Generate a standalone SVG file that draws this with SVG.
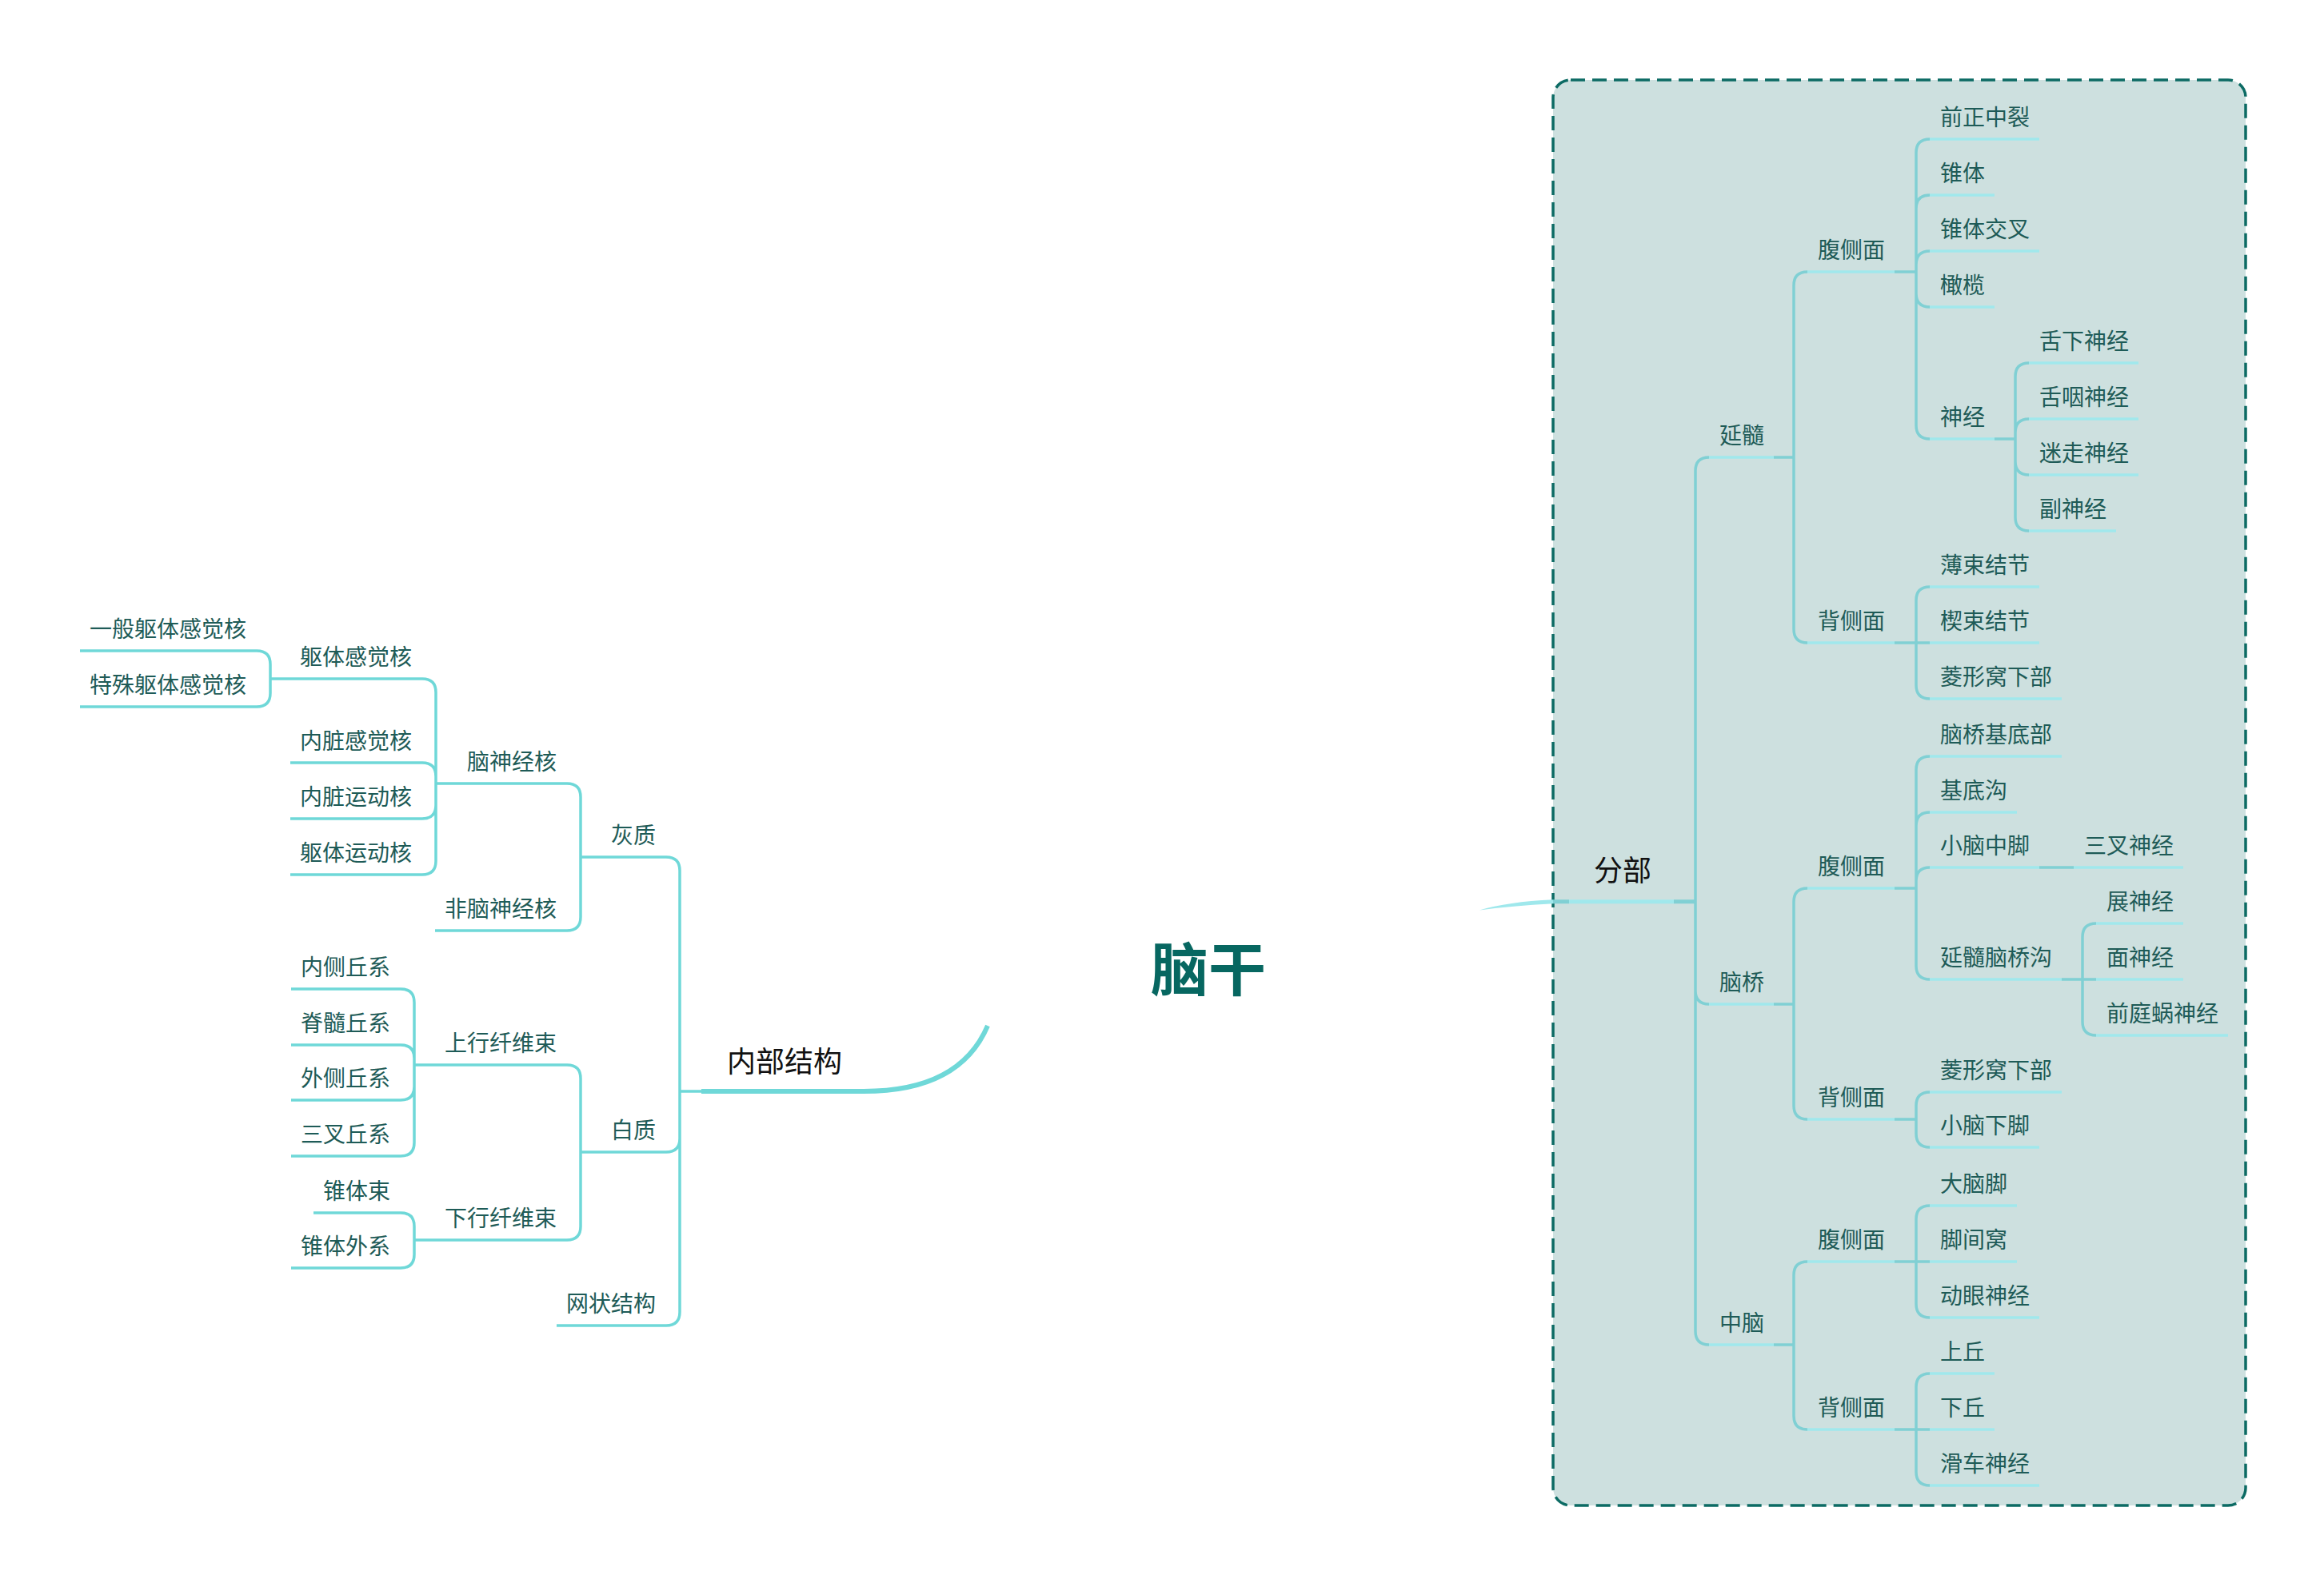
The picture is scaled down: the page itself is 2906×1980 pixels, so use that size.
<svg xmlns="http://www.w3.org/2000/svg" width="2906" height="1980" viewBox="0 0 2906 1980">
<style>
text{font-family:"Noto Sans CJK SC","Noto Sans",sans-serif;}
.t{font-size:28px;fill:#1e5b57;}
.tl{text-anchor:end;}
.big{font-size:36px;fill:#111;}
.ll{stroke:#6fd8d8;stroke-width:3.5;fill:none;}
.ur{stroke:#a0e8ec;stroke-width:3.5;fill:none;}
.cr{stroke:#80d0d4;stroke-width:3.5;fill:none;}
</style>
<rect width="2906" height="1980" fill="#ffffff"/>
<g id="boundary">
<rect x="1942" y="100" width="866" height="1783" rx="22" fill="#cde0df" stroke="#0c6b64" stroke-width="3.5" stroke-dasharray="18 9"/>
</g>
<g id="connectors">
<path d="M1850,1138.5 Q1885,1128 1942,1125.3 L1942,1130.3 Q1890,1133 1850,1138.5 Z" fill="#9fe8ec"/>
<path d="M850,1365 H877" class="ll"/>
<path d="M1080,1365 C1170,1365 1215,1330 1235,1283" stroke="#6fd8d8" stroke-width="6" fill="none"/>
<path class="ll" d="M833,1072 Q850,1072 850,1089 V1365 M833,1441 Q850,1441 850,1424 V1365 M833,1658 Q850,1658 850,1641 V1365
M709,980 Q726,980 726,997 V1072 M709,1164 Q726,1164 726,1147 V1072
M709,1332 Q726,1332 726,1349 V1441 M709,1551 Q726,1551 726,1534 V1441
M528,849 Q545,849 545,866 V980 M528,954 Q545,954 545,971 V980 M528,1024 Q545,1024 545,1007 V980 M528,1094 Q545,1094 545,1077 V980
M321,814 Q338,814 338,831 V849 M321,884 Q338,884 338,867 V849
M501,1237 Q518,1237 518,1254 V1332 M501,1307 Q518,1307 518,1324 V1332 M501,1376 Q518,1376 518,1359 V1332 M501,1446 Q518,1446 518,1429 V1332
M501,1517 Q518,1517 518,1534 V1551 M501,1586 Q518,1586 518,1569 V1551"/>
<path d="M1942,1127.8 H1962 M2093,1127.8 H2120" stroke="#80d0d4" stroke-width="5" fill="none"/>
<path class="cr" d="M2120,1127.8 V589 Q2120,572 2137,572 M2120,1127.8 V1239 Q2120,1256 2137,1256 M2120,1127.8 V1665 Q2120,1682 2137,1682
M2218,572 H2243 M2218,1256 H2243 M2218,1682 H2243
M2243,572 V357 Q2243,340 2260,340 M2243,572 V787 Q2243,804 2260,804
M2243,1256 V1128 Q2243,1111 2260,1111 M2243,1256 V1383 Q2243,1400 2260,1400
M2243,1682 V1595 Q2243,1578 2260,1578 M2243,1682 V1771 Q2243,1788 2260,1788
M2369,340 H2396 M2369,804 H2396 M2369,1111 H2396 M2369,1400 H2396 M2369,1578 H2396 M2369,1788 H2396
M2396,340 V191 Q2396,174 2413,174 M2396,340 V261 Q2396,244 2413,244 M2396,340 V331 Q2396,314 2413,314 M2396,340 V367 Q2396,384 2413,384 M2396,340 V532 Q2396,549 2413,549
M2396,804 V751 Q2396,734 2413,734 M2396,804 H2413 M2396,804 V857 Q2396,874 2413,874
M2396,1111 V963 Q2396,946 2413,946 M2396,1111 V1033 Q2396,1016 2413,1016 M2396,1111 V1102 Q2396,1085 2413,1085 M2396,1111 V1208 Q2396,1225 2413,1225
M2396,1400 V1383 Q2396,1366 2413,1366 M2396,1400 V1418 Q2396,1435 2413,1435
M2396,1578 V1525 Q2396,1508 2413,1508 M2396,1578 H2413 M2396,1578 V1631 Q2396,1648 2413,1648
M2396,1788 V1735 Q2396,1718 2413,1718 M2396,1788 H2413 M2396,1788 V1841 Q2396,1858 2413,1858
M2494,549 H2520 M2520,549 V471 Q2520,454 2537,454 M2520,549 V541 Q2520,524 2537,524 M2520,549 V577 Q2520,594 2537,594 M2520,549 V647 Q2520,664 2537,664
M2550,1085 H2593
M2578,1225 H2604 M2604,1225 V1172 Q2604,1155 2621,1155 M2604,1225 H2621 M2604,1225 V1278 Q2604,1295 2621,1295"/>
</g>
<g id="center"><text x="1511" y="1239" text-anchor="middle" font-size="72" font-weight="bold" fill="#076761">脑干</text></g>
<g id="n-neibu"><path d="M877,1365 H1080" stroke="#6fd8d8" stroke-width="6"/><text class="big" x="909" y="1341">内部结构</text></g>
<g id="n-huizhi"><path class="ll" d="M726,1072 H833"/><text class="t tl" x="820" y="1055">灰质</text></g>
<g id="n-baizhi"><path class="ll" d="M726,1441 H833"/><text class="t tl" x="820" y="1424">白质</text></g>
<g id="n-wangzhuang"><path class="ll" d="M696,1658 H833"/><text class="t tl" x="820" y="1641">网状结构</text></g>
<g id="n-naoshenjinghe"><path class="ll" d="M545,980 H709"/><text class="t tl" x="696" y="963">脑神经核</text></g>
<g id="n-feinaoshenjinghe"><path class="ll" d="M544,1164 H709"/><text class="t tl" x="696" y="1147">非脑神经核</text></g>
<g id="n-shangxing"><path class="ll" d="M518,1332 H709"/><text class="t tl" x="696" y="1315">上行纤维束</text></g>
<g id="n-xiaxing"><path class="ll" d="M518,1551 H709"/><text class="t tl" x="696" y="1534">下行纤维束</text></g>
<g id="n-quti"><path class="ll" d="M338,849 H528"/><text class="t tl" x="515" y="832">躯体感觉核</text></g>
<g id="n-neizanggan"><path class="ll" d="M363,954 H528"/><text class="t tl" x="515" y="937">内脏感觉核</text></g>
<g id="n-neizangyun"><path class="ll" d="M363,1024 H528"/><text class="t tl" x="515" y="1007">内脏运动核</text></g>
<g id="n-qutiyun"><path class="ll" d="M363,1094 H528"/><text class="t tl" x="515" y="1077">躯体运动核</text></g>
<g id="n-yiban"><path class="ll" d="M100,814 H321"/><text class="t tl" x="308" y="797">一般躯体感觉核</text></g>
<g id="n-teshu"><path class="ll" d="M100,884 H321"/><text class="t tl" x="308" y="867">特殊躯体感觉核</text></g>
<g id="n-neice"><path class="ll" d="M364,1237 H501"/><text class="t tl" x="488" y="1220">内侧丘系</text></g>
<g id="n-jisui"><path class="ll" d="M364,1307 H501"/><text class="t tl" x="488" y="1290">脊髓丘系</text></g>
<g id="n-waice"><path class="ll" d="M364,1376 H501"/><text class="t tl" x="488" y="1359">外侧丘系</text></g>
<g id="n-sancha"><path class="ll" d="M364,1446 H501"/><text class="t tl" x="488" y="1429">三叉丘系</text></g>
<g id="n-zhuitishu"><path class="ll" d="M392,1517 H501"/><text class="t tl" x="488" y="1500">锥体束</text></g>
<g id="n-zhuitiwai"><path class="ll" d="M364,1586 H501"/><text class="t tl" x="488" y="1569">锥体外系</text></g>
<g id="n-fenbu"><path d="M1962,1127.8 H2093" stroke="#a0e8ec" stroke-width="5"/><text class="big" x="1993" y="1102">分部</text></g>
<g id="n-yansui"><path class="ur" d="M2137,572 H2218"/><text class="t" x="2150" y="555">延髓</text></g>
<g id="n-naoqiao"><path class="ur" d="M2137,1256 H2218"/><text class="t" x="2150" y="1239">脑桥</text></g>
<g id="n-zhongnao"><path class="ur" d="M2137,1682 H2218"/><text class="t" x="2150" y="1665">中脑</text></g>
<g id="n-ys-fu"><path class="ur" d="M2260,340 H2369"/><text class="t" x="2273" y="323">腹侧面</text></g>
<g id="n-ys-bei"><path class="ur" d="M2260,804 H2369"/><text class="t" x="2273" y="787">背侧面</text></g>
<g id="n-nq-fu"><path class="ur" d="M2260,1111 H2369"/><text class="t" x="2273" y="1094">腹侧面</text></g>
<g id="n-nq-bei"><path class="ur" d="M2260,1400 H2369"/><text class="t" x="2273" y="1383">背侧面</text></g>
<g id="n-zn-fu"><path class="ur" d="M2260,1578 H2369"/><text class="t" x="2273" y="1561">腹侧面</text></g>
<g id="n-zn-bei"><path class="ur" d="M2260,1788 H2369"/><text class="t" x="2273" y="1771">背侧面</text></g>
<g id="n-qianzheng"><path class="ur" d="M2413,174 H2550"/><text class="t" x="2426" y="157">前正中裂</text></g>
<g id="n-zhuiti"><path class="ur" d="M2413,244 H2494"/><text class="t" x="2426" y="227">锥体</text></g>
<g id="n-zhuitijiaocha"><path class="ur" d="M2413,314 H2550"/><text class="t" x="2426" y="297">锥体交叉</text></g>
<g id="n-ganlan"><path class="ur" d="M2413,384 H2494"/><text class="t" x="2426" y="367">橄榄</text></g>
<g id="n-shenjing"><path class="ur" d="M2413,549 H2494"/><text class="t" x="2426" y="532">神经</text></g>
<g id="n-shexia"><path class="ur" d="M2537,454 H2674"/><text class="t" x="2550" y="437">舌下神经</text></g>
<g id="n-sheyan"><path class="ur" d="M2537,524 H2674"/><text class="t" x="2550" y="507">舌咽神经</text></g>
<g id="n-mizou"><path class="ur" d="M2537,594 H2674"/><text class="t" x="2550" y="577">迷走神经</text></g>
<g id="n-fushenjing"><path class="ur" d="M2537,664 H2646"/><text class="t" x="2550" y="647">副神经</text></g>
<g id="n-boshu"><path class="ur" d="M2413,734 H2550"/><text class="t" x="2426" y="717">薄束结节</text></g>
<g id="n-xieshu"><path class="ur" d="M2413,804 H2550"/><text class="t" x="2426" y="787">楔束结节</text></g>
<g id="n-lingxing1"><path class="ur" d="M2413,874 H2578"/><text class="t" x="2426" y="857">菱形窝下部</text></g>
<g id="n-jidibu"><path class="ur" d="M2413,946 H2578"/><text class="t" x="2426" y="929">脑桥基底部</text></g>
<g id="n-jidigou"><path class="ur" d="M2413,1016 H2522"/><text class="t" x="2426" y="999">基底沟</text></g>
<g id="n-xiaonaozhong"><path class="ur" d="M2413,1085 H2550"/><text class="t" x="2426" y="1068">小脑中脚</text></g>
<g id="n-sanchashen"><path class="ur" d="M2593,1085 H2730"/><text class="t" x="2606" y="1068">三叉神经</text></g>
<g id="n-yansuinaoqiao"><path class="ur" d="M2413,1225 H2578"/><text class="t" x="2426" y="1208">延髓脑桥沟</text></g>
<g id="n-zhan"><path class="ur" d="M2621,1155 H2730"/><text class="t" x="2634" y="1138">展神经</text></g>
<g id="n-mian"><path class="ur" d="M2621,1225 H2730"/><text class="t" x="2634" y="1208">面神经</text></g>
<g id="n-qianting"><path class="ur" d="M2621,1295 H2786"/><text class="t" x="2634" y="1278">前庭蜗神经</text></g>
<g id="n-lingxing2"><path class="ur" d="M2413,1366 H2578"/><text class="t" x="2426" y="1349">菱形窝下部</text></g>
<g id="n-xiaonaoxia"><path class="ur" d="M2413,1435 H2550"/><text class="t" x="2426" y="1418">小脑下脚</text></g>
<g id="n-danaojiao"><path class="ur" d="M2413,1508 H2522"/><text class="t" x="2426" y="1491">大脑脚</text></g>
<g id="n-jiaojianwo"><path class="ur" d="M2413,1578 H2522"/><text class="t" x="2426" y="1561">脚间窝</text></g>
<g id="n-dongyan"><path class="ur" d="M2413,1648 H2550"/><text class="t" x="2426" y="1631">动眼神经</text></g>
<g id="n-shangqiu"><path class="ur" d="M2413,1718 H2494"/><text class="t" x="2426" y="1701">上丘</text></g>
<g id="n-xiaqiu"><path class="ur" d="M2413,1788 H2494"/><text class="t" x="2426" y="1771">下丘</text></g>
<g id="n-huache"><path class="ur" d="M2413,1858 H2550"/><text class="t" x="2426" y="1841">滑车神经</text></g>
</svg>
